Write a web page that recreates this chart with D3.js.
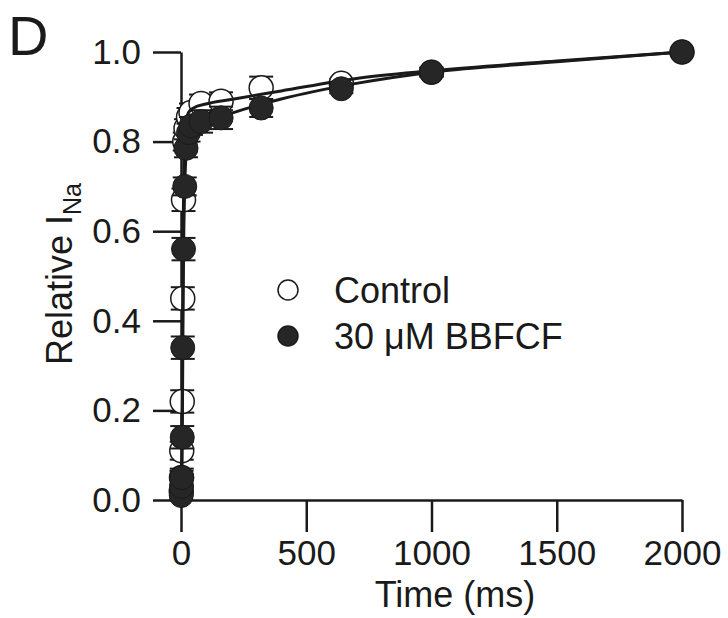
<!DOCTYPE html>
<html>
<head>
<meta charset="utf-8">
<script src="https://cdn.jsdelivr.net/npm/d3@7"></script>
<style>
    body { margin: 0; background: #fff; }
    text { font-family: "Liberation Sans", Arial, sans-serif; fill: #1a1a1a; }
</style>
</head>
<body>
<div id="chart"></div>
<script>
// recovery time points (ms)
var times = [1, 2, 3, 5, 7, 10, 15, 20, 30, 40, 80, 160, 320, 640, 1000, 2000];
var controlVals = [0.02, 0.05, 0.11, 0.22, 0.45, 0.67, 0.80, 0.83, 0.855, 0.865, 0.885, 0.89, 0.92, 0.93, 0.955, 1.0];
var controlErr  = [0.01, 0.015, 0.02, 0.025, 0.025, 0.025, 0.02, 0.02, 0.02, 0.02, 0.02, 0.02, 0.025, 0.01, 0.01, 0];
var bbfcfVals   = [0.01, 0.03, 0.05, 0.14, 0.34, 0.56, 0.70, 0.785, 0.82, 0.835, 0.845, 0.853, 0.875, 0.918, 0.955, 1.0];
var bbfcfErr    = [0.01, 0.015, 0.02, 0.025, 0.025, 0.025, 0.02, 0.02, 0.02, 0.02, 0.025, 0.025, 0.02, 0.01, 0.01, 0];
// fitted curves
var fitTimes   = [0, 2, 4, 6, 8, 10, 15, 20, 30, 50, 100, 200, 400, 700, 1000, 1500, 2000];
var fitControl = [0, 0.05, 0.17, 0.38, 0.55, 0.67, 0.79, 0.84, 0.865, 0.875, 0.884, 0.894, 0.913, 0.941, 0.958, 0.98, 1.0];
var fitBbfcf   = [0, 0.02, 0.08, 0.22, 0.40, 0.54, 0.70, 0.77, 0.81, 0.83, 0.843, 0.863, 0.895, 0.93, 0.955, 0.978, 1.0];
var xTicks = [0, 500, 1000, 1500, 2000];
var yTicks = [0.0, 0.2, 0.4, 0.6, 0.8, 1.0];

var width = 728, height = 618;
var x = d3.scaleLinear().domain([0, 2000]).range([181, 682]);
var y = d3.scaleLinear().domain([0, 1]).range([500, 52]);
var r = 12;

var svg = d3.select("#chart").append("svg")
    .attr("width", width)
    .attr("height", height);

// axes
var xAxis = svg.append("g")
    .attr("transform", "translate(0," + y(0) + ")")
    .call(d3.axisBottom(x).tickValues(xTicks).tickSize(32).tickSizeOuter(0).tickPadding(8)
        .tickFormat(d3.format("d")));
var yAxis = svg.append("g")
    .attr("transform", "translate(" + x(0) + ",0)")
    .call(d3.axisLeft(y).tickValues(yTicks).tickSize(28).tickSizeOuter(0).tickPadding(12)
        .tickFormat(d3.format(".1f")));
[xAxis, yAxis].forEach(function (g) {
    g.selectAll("path, line").attr("stroke", "#1a1a1a").attr("stroke-width", 2.5);
    g.selectAll("text").style("font-size", "35px").attr("fill", "#1a1a1a")
        .style("font-family", "'Liberation Sans', Arial, sans-serif");
});

svg.append("text")
    .attr("x", 455).attr("y", 607)
    .style("text-anchor", "middle").style("font-size", "36px")
    .text("Time (ms)");

var yl = svg.append("text")
    .attr("transform", "translate(72,274) rotate(-90)")
    .style("text-anchor", "middle").style("font-size", "36px");
yl.append("tspan").text("Relative I");
yl.append("tspan").attr("dy", 9).style("font-size", "25px").text("Na");

svg.append("text")
    .attr("x", 8).attr("y", 55)
    .style("font-size", "56px")
    .text("D");

function series(ts, vals, errs) {
    return ts.map(function (t, i) { return {t: t, v: vals[i], e: errs ? errs[i] : 0}; });
}
var control = series(times, controlVals, controlErr);
var bbfcf = series(times, bbfcfVals, bbfcfErr);

function drawErr(data) {
    var g = svg.append("g").attr("stroke", "#1a1a1a").attr("stroke-width", 2);
    data.filter(function (d) { return d.e > 0; }).forEach(function (d) {
        g.append("line").attr("x1", x(d.t)).attr("x2", x(d.t))
            .attr("y1", y(d.v - d.e)).attr("y2", y(d.v + d.e));
        [d.v - d.e, d.v + d.e].forEach(function (v) {
            g.append("line").attr("x1", x(d.t) - r).attr("x2", x(d.t) + r)
                .attr("y1", y(v)).attr("y2", y(v));
        });
    });
}

var line = d3.line()
    .x(function (d) { return x(d.t); })
    .y(function (d) { return y(d.v); })
    .curve(d3.curveMonotoneX);

// control (open)
drawErr(control);
svg.append("g").selectAll("circle").data(control).enter().append("circle")
    .attr("cx", function (d) { return x(d.t); })
    .attr("cy", function (d) { return y(d.v); })
    .attr("r", r)
    .attr("fill", "#fff").attr("stroke", "#1a1a1a").attr("stroke-width", 1.5);

// fit lines
[fitControl, fitBbfcf].forEach(function (vals) {
    svg.append("path").datum(series(fitTimes, vals))
        .attr("d", line)
        .attr("fill", "none").attr("stroke", "#1a1a1a").attr("stroke-width", 3);
});

// BBFCF (filled)
drawErr(bbfcf);
svg.append("g").selectAll("circle").data(bbfcf).enter().append("circle")
    .attr("cx", function (d) { return x(d.t); })
    .attr("cy", function (d) { return y(d.v); })
    .attr("r", r)
    .attr("fill", "#262626").attr("stroke", "#1a1a1a").attr("stroke-width", 1);

// legend
var legend = [
    {label: "Control", fill: "#fff"},
    {label: "30 \u03bcM BBFCF", fill: "#262626"}
];
var lg = svg.selectAll(".legend").data(legend).enter().append("g")
    .attr("class", "legend")
    .attr("transform", function (d, i) { return "translate(288," + (290 + i * 46) + ")"; });
lg.append("circle").attr("r", 10)
    .attr("fill", function (d) { return d.fill; })
    .attr("stroke", "#1a1a1a").attr("stroke-width", 1.5);
lg.append("text").attr("x", 46).attr("y", 13)
    .style("font-size", "36px")
    .text(function (d) { return d.label; });
</script>
</body>
</html>
